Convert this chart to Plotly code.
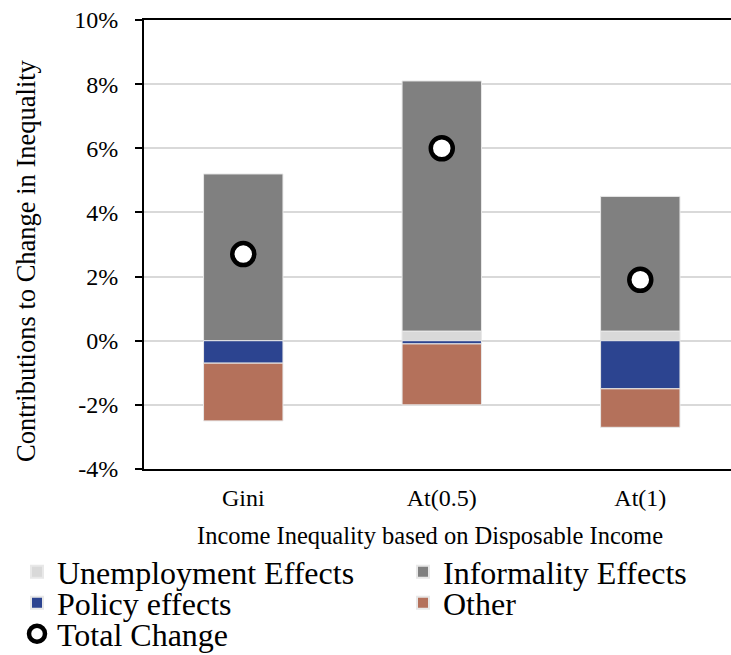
import plotly.graph_objects as go

categories = ["Gini", "At(0.5)", "At(1)"]
unemployment = [0.0, 0.3, 0.3]
informality = [5.2, 7.8, 4.2]
policy = [-0.7, -0.1, -1.5]
other = [-1.8, -1.9, -1.2]
total = [2.7, 6.0, 1.9]

y_ticks = [-4, -2, 0, 2, 4, 6, 8, 10]
y_ticklabels = [f"{v}%" for v in y_ticks]
x_title = "Income Inequality based on Disposable Income"
y_title = "Contributions to Change in Inequality"

FONT = "Liberation Serif, Times New Roman, serif"
W, H = 731, 655
ML, MR, MT, MB = 144, 0, 20, 186
PW, PH = W - ML - MR, H - MT - MB

def px_x(x):
    return (x - ML) / PW

def px_y(y):
    return (H - MB - y) / PH

fig = go.Figure()
edge = dict(color="#E8E8E8", width=1)
fig.add_trace(go.Bar(name="Unemployment Effects", x=categories, y=unemployment,
                     marker=dict(color="#D9D9D9", line=edge), legend="legend"))
fig.add_trace(go.Bar(name="Informality Effects", x=categories, y=informality,
                     marker=dict(color="#808080", line=edge), legend="legend2"))
fig.add_trace(go.Bar(name="Policy effects", x=categories, y=policy,
                     marker=dict(color="#2C4490", line=edge), legend="legend3"))
fig.add_trace(go.Bar(name="Other", x=categories, y=other,
                     marker=dict(color="#B4715B", line=edge), legend="legend4"))
fig.add_trace(go.Scatter(name="Total Change", x=categories, y=total, mode="markers",
                         marker=dict(symbol="circle", size=22, color="white",
                                     line=dict(color="black", width=4.5)),
                         legend="legend5"))

def leg(xpx, ypx, sizing="constant"):
    return dict(xref="paper", yref="paper", x=px_x(xpx), y=px_y(ypx),
                xanchor="left", yanchor="middle", orientation="v",
                font=dict(size=32, family=FONT, color="black"),
                bgcolor="rgba(0,0,0,0)", itemsizing=sizing)

col1, col2 = 17, 403
rows = [572, 603, 634]

fig.update_layout(
    width=W, height=H,
    margin=dict(l=ML, r=MR, t=MT, b=MB, autoexpand=False),
    barmode="relative", bargap=0.6,
    plot_bgcolor="white", paper_bgcolor="white",
    font=dict(family=FONT, size=24, color="black"),
    xaxis=dict(range=[-0.5, 2.457], showline=True, linecolor="black", linewidth=2,
               mirror=True, showgrid=False, ticks="", tickfont=dict(size=24),
               ticklabelstandoff=6),
    yaxis=dict(range=[-4, 10], tickvals=y_ticks, ticktext=y_ticklabels,
               showline=True, linecolor="black", linewidth=2,
               showgrid=True, gridcolor="#D9D9D9", gridwidth=1.5,
               zeroline=False, ticks="outside", ticklen=7, tickcolor="black",
               tickwidth=2, tickfont=dict(size=24), ticklabelstandoff=12),
    annotations=[
        dict(text=x_title, xref="paper", yref="paper", x=px_x(430), y=px_y(535),
             xanchor="center", yanchor="middle", showarrow=False,
             font=dict(size=24.5, family=FONT, color="black")),
        dict(text=y_title, xref="paper", yref="paper", x=px_x(26), y=px_y(261),
             xanchor="center", yanchor="middle", showarrow=False, textangle=-90,
             font=dict(size=26.5, family=FONT, color="black")),
    ],
    legend=leg(col1, rows[0]),
    legend2=leg(col2, rows[0]),
    legend3=leg(col1, rows[1]),
    legend4=leg(col2, rows[1]),
    legend5=leg(col1, rows[2], "trace"),
    showlegend=True,
)

fig.write_html("out.html")
